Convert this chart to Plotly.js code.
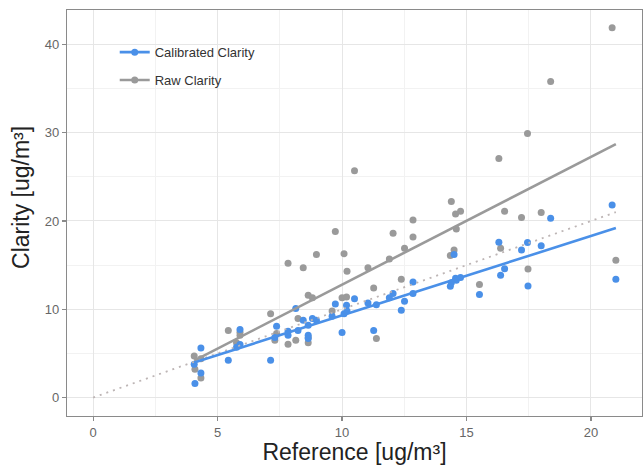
<!DOCTYPE html>
<html>
<head>
<meta charset="utf-8">
<script src="https://cdn.plot.ly/plotly-3.0.1.min.js"></script>
<style>html,body{margin:0;padding:0;background:#fff;}#chart{width:643px;height:465px;}</style>
</head>
<body>
<div id="chart"></div>
<script>
// Reference concentration (x) for each sample
var reference = [4.06, 4.09, 4.33, 4.33, 5.43, 5.76, 5.90, 5.90, 7.13, 7.30, 7.37, 7.83, 7.83, 8.14, 8.23, 8.44, 8.64, 8.64, 8.64, 8.81, 8.97, 9.60, 9.73, 10.00, 10.08, 10.18, 10.20, 10.50, 11.04, 11.27, 11.38, 11.90, 12.05, 12.38, 12.51, 12.85, 12.85, 14.35, 14.39, 14.50, 14.56, 14.59, 14.76, 15.52, 16.30, 16.37, 16.53, 17.21, 17.45, 17.47, 18.00, 18.38, 20.85, 21.00];
// Raw sensor readings
var rawClarity = [4.71, 3.20, 2.22, 4.40, 7.60, 6.20, 7.40, 7.06, 9.50, 6.50, 7.25, 15.20, 6.04, 6.50, 8.95, 14.70, 11.60, 6.80, 6.20, 11.30, 16.20, 9.80, 18.80, 11.30, 16.30, 11.40, 14.30, 25.70, 14.70, 12.40, 6.70, 15.70, 18.60, 13.40, 16.90, 20.10, 18.20, 16.10, 22.20, 16.70, 20.80, 19.10, 21.10, 12.80, 27.07, 16.90, 21.10, 20.40, 29.90, 14.56, 20.95, 35.80, 41.90, 15.55];
// Calibrated sensor readings
var calClarity = [3.77, 1.58, 2.79, 5.60, 4.22, 5.70, 7.70, 6.00, 4.22, 6.80, 8.07, 7.06, 7.50, 10.10, 7.60, 8.75, 7.06, 6.70, 8.20, 8.95, 8.75, 9.20, 10.60, 7.36, 9.50, 10.45, 9.80, 11.20, 10.70, 7.60, 10.50, 11.30, 11.80, 9.90, 10.90, 13.10, 11.80, 12.60, 13.00, 16.20, 13.50, 13.30, 13.60, 11.66, 17.60, 13.85, 14.60, 16.70, 17.55, 12.64, 17.20, 20.30, 21.80, 13.40];

var seriesNames = ["Calibrated Clarity", "Raw Clarity"];
var xTitle = "Reference [ug/m³]";
var yTitle = "Clarity [ug/m³]";

var blue = "#4a90e8";
var grey = "#9a9a9a";

function olsLine(xs, ys) {
  var n = xs.length, mx = 0, my = 0;
  for (var i = 0; i < n; i++) { mx += xs[i]; my += ys[i]; }
  mx /= n; my /= n;
  var sxy = 0, sxx = 0;
  for (var j = 0; j < n; j++) { sxy += (xs[j] - mx) * (ys[j] - my); sxx += (xs[j] - mx) * (xs[j] - mx); }
  var b = sxy / sxx, a = my - b * mx;
  var x0 = Math.min.apply(null, xs), x1 = Math.max.apply(null, xs);
  return { x: [x0, x1], y: [a + b * x0, a + b * x1] };
}

var rawFit = olsLine(reference, rawClarity);
var calFit = olsLine(reference, calClarity);
var xMax = Math.max.apply(null, reference);

var traces = [
  { x: reference, y: rawClarity, type: "scatter", mode: "markers", marker: { color: grey, size: 7 }, showlegend: false, hoverinfo: "skip" },
  { x: reference, y: calClarity, type: "scatter", mode: "markers", marker: { color: blue, size: 7 }, showlegend: false, hoverinfo: "skip" },
  { x: [0, xMax], y: [0, xMax], type: "scatter", mode: "lines", line: { color: "#bdb5b5", width: 1.8, dash: "2px,5px" }, showlegend: false, hoverinfo: "skip" },
  { x: rawFit.x, y: rawFit.y, type: "scatter", mode: "lines", line: { color: grey, width: 2.6 }, showlegend: false, hoverinfo: "skip" },
  { x: calFit.x, y: calFit.y, type: "scatter", mode: "lines", line: { color: blue, width: 2.6 }, showlegend: false, hoverinfo: "skip" },
  { x: [null], y: [null], type: "scatter", mode: "lines+markers", name: seriesNames[0], legendgroup: "a", line: { color: blue, width: 2.6 }, marker: { color: blue, size: 7 } },
  { x: [null], y: [null], type: "scatter", mode: "lines+markers", name: seriesNames[1], legendgroup: "b", line: { color: grey, width: 2.6 }, marker: { color: grey, size: 7 } }
];

var axisCommon = {
  showline: true, mirror: true, linecolor: "#8a8a8a", linewidth: 1.2,
  ticks: "outside", ticklen: 4, tickcolor: "#8a8a8a", tickwidth: 1.2,
  showgrid: true, gridcolor: "#e6e6e6", gridwidth: 1,
  zeroline: false,
  tickfont: { family: "Liberation Sans, Arial, sans-serif", size: 13, color: "#666" }
};

var layout = {
  width: 643, height: 465,
  margin: { l: 67, r: 1, t: 10, b: 49 },
  paper_bgcolor: "#fff", plot_bgcolor: "#fff",
  font: { family: "Liberation Sans, Arial, sans-serif" },
  xaxis: Object.assign({}, axisCommon, {
    range: [-1.05, 22.05], dtick: 5, tick0: 0,
    minor: { dtick: 2.5, tick0: 0, showgrid: true, gridcolor: "#f2f2f2", gridwidth: 1, ticks: "" },
    title: { text: xTitle, font: { size: 23, color: "#222" }, standoff: 7 }
  }),
  yaxis: Object.assign({}, axisCommon, {
    range: [-2.09, 43.9], dtick: 10, tick0: 0,
    minor: { dtick: 5, tick0: 0, showgrid: true, gridcolor: "#f2f2f2", gridwidth: 1, ticks: "" }
  }),
  annotations: [{
    text: yTitle, textangle: -90, showarrow: false,
    xref: "paper", yref: "paper", x: -0.08, y: 0.537, xanchor: "center", yanchor: "middle",
    font: { size: 23, color: "#222" }
  }],
  legend: {
    x: 0.083, y: 0.933, xanchor: "left", yanchor: "top",
    bgcolor: "rgba(255,255,255,0)", borderwidth: 0,
    traceorder: "grouped", tracegroupgap: 8,
    font: { size: 13, color: "#333" }
  },
  showlegend: true
};

Plotly.newPlot("chart", traces, layout, { staticPlot: true, displayModeBar: false });
</script>
</body>
</html>
